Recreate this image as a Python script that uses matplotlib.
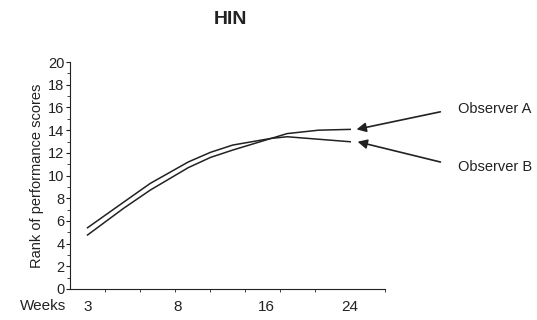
import numpy as np
import matplotlib
matplotlib.use("Agg")
import matplotlib.pyplot as plt
from matplotlib.ticker import FixedLocator, MultipleLocator

plt.rcParams['font.family'] = ['Liberation Sans', 'DejaVu Sans']

# data
weeks = [3, 5, 6.5, 9, 11, 13, 16.5, 18, 21, 24]
observer_a = [4.76, 7.1, 8.72, 10.7, 11.6, 12.25, 13.28, 13.7, 14.0, 14.07]
observer_b = [5.4, 7.64, 9.31, 11.2, 12.05, 12.69, 13.28, 13.42, 13.2, 12.98]
week_ticks = [3, 8, 16, 24]
series_names = ["Observer A", "Observer B"]

# the printed week axis is not linear; map weeks onto evenly spaced axis units
knot_weeks = [2, 3, 8, 16, 24, 27.33]
knot_pos = [0, 0.5, 3.06, 5.6, 8, 9]

def forward(w):
    return np.interp(w, knot_weeks, knot_pos)

def inverse(p):
    return np.interp(p, knot_pos, knot_weeks)

fig = plt.figure(figsize=(5.37, 3.2), dpi=100)
ax = fig.add_axes([0.1304, 0.0969, 0.587, 0.709])

ax.set_xscale('function', functions=(forward, inverse))
ax.plot(weeks, observer_a, color='#222222', lw=1.1)
ax.plot(weeks, observer_b, color='#222222', lw=1.1)

ax.set_xlim(2, 27.33)
ax.set_ylim(0, 20)
ax.spines['top'].set_visible(False)
ax.spines['right'].set_visible(False)
ax.spines['left'].set_color('#222222')
ax.spines['bottom'].set_color('#222222')

ax.yaxis.set_major_locator(MultipleLocator(2))
ax.yaxis.set_minor_locator(MultipleLocator(1))
ax.tick_params(axis='y', which='major', length=3, labelsize=10.5, pad=1, colors='#222222')
ax.tick_params(axis='y', which='minor', length=2, color='#222222')

ax.xaxis.set_major_locator(FixedLocator(week_ticks))
ax.xaxis.set_major_formatter(plt.FixedFormatter([str(w) for w in week_ticks]))
ax.xaxis.set_minor_locator(FixedLocator(inverse(np.arange(1, 10))))
ax.tick_params(axis='x', which='major', length=0, labelsize=11, pad=8, colors='#222222')
ax.tick_params(axis='x', which='minor', length=2.5, color='#222222')

ax.set_ylabel("Rank of performance scores", fontsize=10.5, color='#222222', labelpad=3)
fig.text(0.037, 0.044, "Weeks", fontsize=11, color='#222222', va='center')
fig.text(0.43, 0.94, "HIN", fontsize=14, fontweight='bold', color='#222222', ha='center', va='center')

# arrows with labels on the right
ax.annotate(series_names[0], xy=(24.6, observer_a[-1]), xycoords='data',
            xytext=(0.853, 0.66), textcoords='figure fraction', fontsize=10.5,
            color='#222222', va='center',
            arrowprops=dict(arrowstyle='-|>', color='#222222', lw=1.2,
                            mutation_scale=14, shrinkA=11, shrinkB=0,
                            relpos=(0, 0.55)))
ax.annotate(series_names[1], xy=(24.7, observer_b[-1]), xycoords='data',
            xytext=(0.853, 0.478), textcoords='figure fraction', fontsize=10.5,
            color='#222222', va='center',
            arrowprops=dict(arrowstyle='-|>', color='#222222', lw=1.2,
                            mutation_scale=14, shrinkA=11, shrinkB=0,
                            relpos=(0, 0.55)))

fig.savefig("out.png", dpi=100)
